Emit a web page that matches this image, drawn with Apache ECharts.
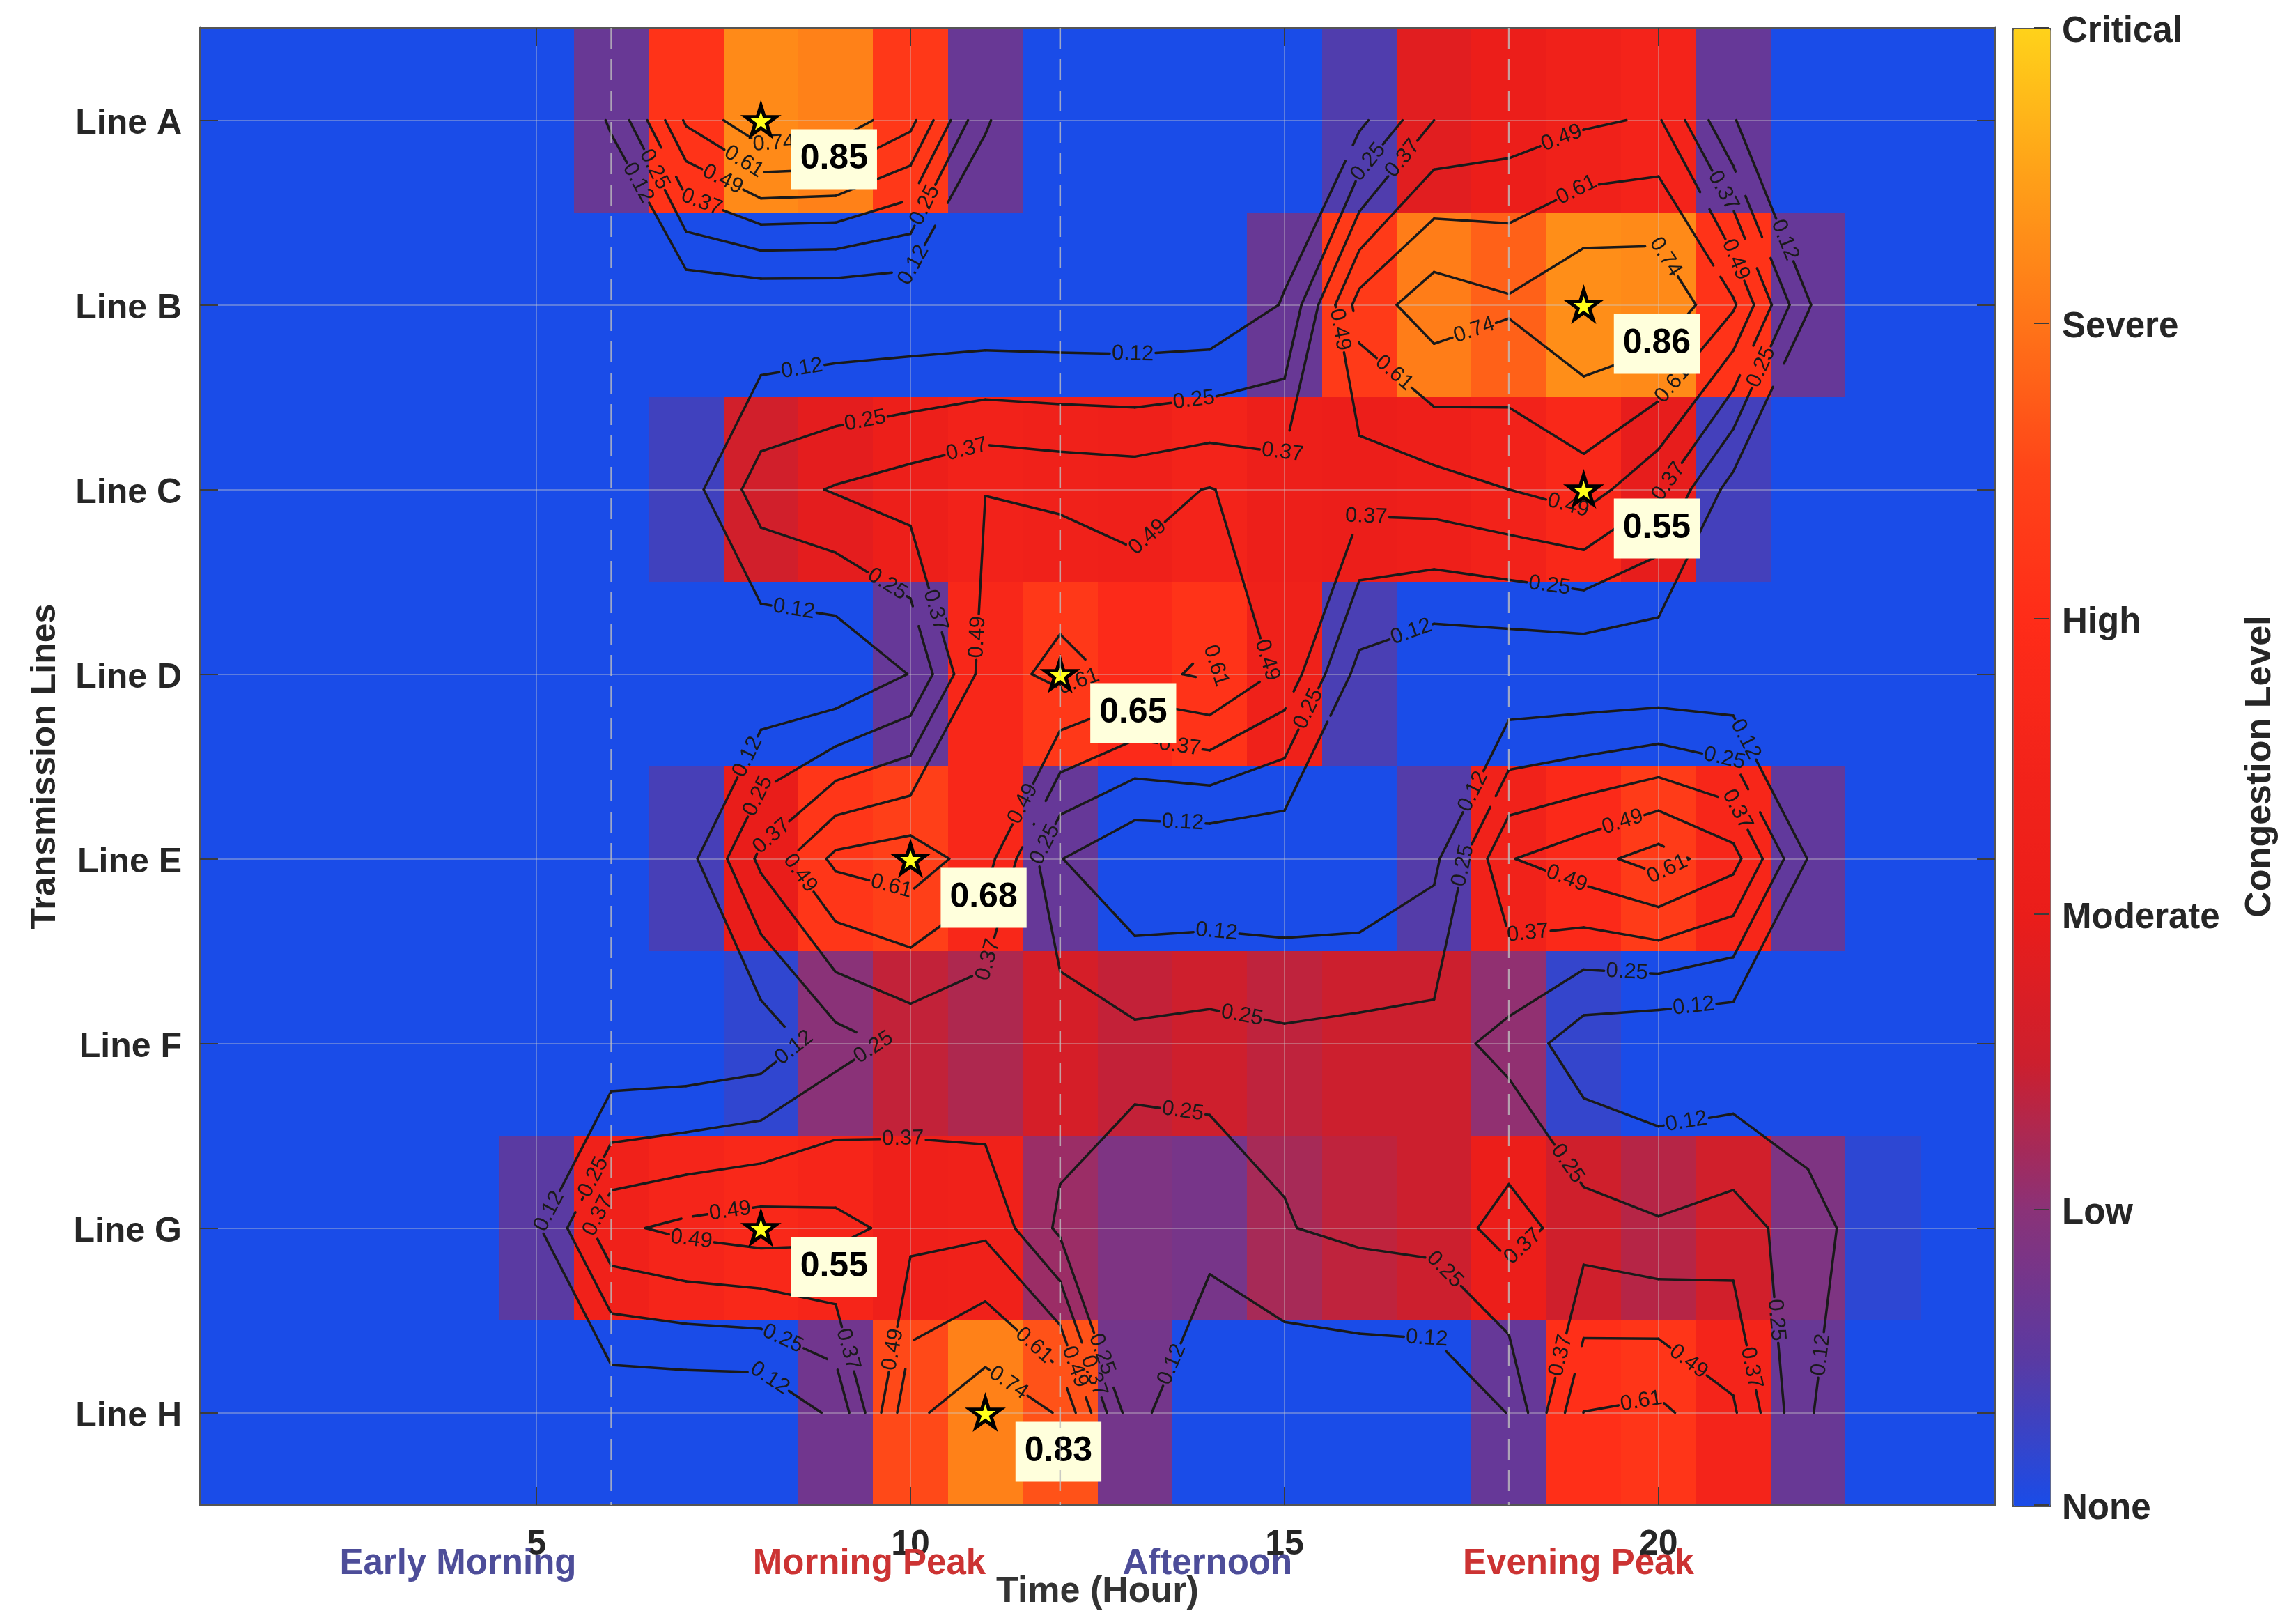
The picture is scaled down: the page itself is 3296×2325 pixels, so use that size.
<!DOCTYPE html>
<html>
<head>
<meta charset="utf-8">
<title>Transmission line congestion</title>
<script src="https://cdn.jsdelivr.net/npm/echarts@6/dist/echarts.min.js"></script>
<style>
  html, body { margin: 0; background: #fff; }
  #chart { width: 3296px; height: 2325px; }
</style>
</head>
<body>
<div id="chart"></div>
<script>
const lineNames = ['Line A', 'Line B', 'Line C', 'Line D', 'Line E', 'Line F', 'Line G', 'Line H']
const lineTicks = [1, 2, 3, 4, 5, 6, 7, 8]
const hourTicks = [5, 10, 15, 20]

// congestion per hour 1..24
const lineA = [0, 0, 0, 0, 0, 0.13, 0.63, 0.85, 0.83, 0.65, 0.13, 0, 0, 0, 0, 0.085, 0.37, 0.42, 0.47, 0.505, 0.125, 0, 0, 0]
const lineB = [0, 0, 0, 0, 0, 0, 0, 0, 0, 0, 0, 0, 0, 0, 0.13, 0.66, 0.82, 0.76, 0.86, 0.85, 0.63, 0.125, 0, 0]
const lineC = [0, 0, 0, 0, 0, 0, 0.06, 0.315, 0.38, 0.43, 0.488, 0.465, 0.45, 0.495, 0.43, 0.42, 0.44, 0.49, 0.55, 0.39, 0.065, 0, 0, 0]
const lineD = [0, 0, 0, 0, 0, 0, 0, 0, 0, 0.125, 0.545, 0.65, 0.575, 0.63, 0.46, 0.075, 0, 0, 0, 0, 0, 0, 0, 0]
const lineE = [0, 0, 0, 0, 0, 0, 0.07, 0.398, 0.64, 0.68, 0.545, 0.125, 0, 0, 0, 0, 0.09, 0.483, 0.565, 0.663, 0.535, 0.115, 0, 0]
const lineF = [0, 0, 0, 0, 0, 0, 0, 0.035, 0.2, 0.285, 0.255, 0.33, 0.287, 0.307, 0.28, 0.3, 0.3, 0.21, 0.04, 0, 0, 0, 0, 0]
const lineG = [0, 0, 0, 0, 0.1, 0.465, 0.52, 0.55, 0.526, 0.45, 0.465, 0.225, 0.175, 0.16, 0.244, 0.28, 0.3, 0.42, 0.31, 0.267, 0.315, 0.176, 0.03, 0]
const lineH = [0, 0, 0, 0, 0, 0, 0, 0, 0.148, 0.71, 0.83, 0.73, 0.155, 0, 0, 0, 0, 0.125, 0.612, 0.639, 0.508, 0.13, 0, 0]
const rows = [lineA, lineB, lineC, lineD, lineE, lineF, lineG, lineH]

const contourLevels = [0.12, 0.25, 0.37, 0.49, 0.61, 0.74]

// where the contour text sits: level, hour, line number (1 = Line A)
const contourLabels = [
  [0.74, 8.17, 1.11], [0.61, 7.78, 1.22], [0.49, 7.49, 1.32], [0.37, 7.22, 1.43], [0.25, 6.56, 1.27], [0.12, 6.35, 1.34],
  [0.25, 10.19, 1.46], [0.12, 10.02, 1.78], [0.12, 8.55, 2.35], [0.25, 9.39, 2.62], [0.37, 10.75, 2.78], [0.25, 9.71, 3.5],
  [0.12, 8.44, 3.65], [0.37, 10.29, 3.66], [0.49, 10.91, 3.8], [0.12, 7.83, 4.45], [0.25, 8.01, 4.67], [0.37, 8.15, 4.88],
  [0.49, 8.55, 5.07], [0.61, 9.75, 5.14], [0.49, 11.54, 4.71], [0.37, 10.98, 5.54], [0.25, 11.74, 4.91], [0.25, 9.52, 6.03],
  [0.12, 8.4, 6.0], [0.61, 12.26, 4.05], [0.37, 13.6, 4.39], [0.12, 13.64, 4.8], [0.25, 15.38, 4.2], [0.49, 14.8, 3.92],
  [0.61, 14.04, 3.96], [0.12, 16.71, 3.79], [0.12, 14.09, 5.4], [0.25, 14.43, 5.85], [0.25, 18.54, 3.53], [0.12, 17.54, 4.64],
  [0.25, 17.42, 5.04], [0.37, 18.25, 5.39], [0.49, 19.52, 4.8], [0.49, 18.77, 5.11], [0.61, 20.1, 5.04], [0.37, 21.02, 4.74],
  [0.25, 20.87, 4.48], [0.12, 21.13, 4.36], [0.25, 19.58, 5.61], [0.12, 20.47, 5.8], [0.12, 20.37, 6.42], [0.25, 16.13, 1.23],
  [0.37, 16.59, 1.21], [0.49, 18.71, 1.1], [0.61, 18.92, 1.39], [0.37, 20.83, 1.39], [0.12, 21.62, 1.66], [0.49, 21, 1.76],
  [0.74, 20.02, 1.76], [0.74, 17.53, 2.13], [0.49, 15.67, 2.14], [0.61, 16.38, 2.41], [0.61, 20.16, 2.42], [0.25, 21.39, 2.34],
  [0.12, 12.97, 2.27], [0.25, 13.79, 2.52], [0.37, 14.97, 2.81], [0.49, 13.22, 3.28], [0.37, 16.09, 3.18], [0.37, 20.04, 2.93],
  [0.49, 18.79, 3.09], [0.12, 5.22, 6.92], [0.25, 5.79, 6.73], [0.37, 5.85, 6.94], [0.49, 7.59, 6.91], [0.49, 7.07, 7.06],
  [0.37, 9.9, 6.55], [0.25, 8.28, 7.61], [0.37, 9.13, 7.66], [0.12, 8.09, 7.83], [0.49, 9.79, 7.66], [0.61, 11.62, 7.65],
  [0.74, 11.29, 7.85], [0.49, 12.14, 7.76], [0.37, 12.39, 7.81], [0.25, 12.51, 7.69], [0.12, 13.5, 7.74], [0.25, 13.64, 6.37],
  [0.25, 18.75, 6.66], [0.25, 17.13, 7.23], [0.37, 18.21, 7.11], [0.12, 16.9, 7.61], [0.37, 18.69, 7.69], [0.61, 19.77, 7.94],
  [0.49, 20.37, 7.74], [0.37, 21.2, 7.76], [0.25, 21.52, 7.5], [0.12, 22.03, 7.68]
]

const peakHours = [8, 19, 19, 12, 10, 8, 11]
const peakRows = [1, 2, 3, 4, 5, 7, 8]
const peakValues = [0.85, 0.86, 0.55, 0.65, 0.68, 0.55, 0.83]

const periodNames = ['Early Morning', 'Morning Peak', 'Afternoon', 'Evening Peak']
const periodCentres = [3.95, 9.45, 13.97, 18.93]
const periodColors = ['#4d4d99', '#cc3333', '#4d4d99', '#cc3333']
const periodEdges = [6, 12, 18]

const levelNames = ['None', 'Low', 'Moderate', 'High', 'Severe', 'Critical']
const palette = ['#1a4ce8', '#5a3aa2', '#8a3278', '#cc1f2e', '#ea1d1a', '#f3231a', '#ff2c18', '#ff4418', '#ff7418', '#ffa018', '#ffd21a']

const FONT = '"Liberation Sans", Arial, sans-serif'
const TEXT = '#262626'
const STAR = 'path://M50 0 L61 35 L98 35 L68 57 L79 91 L50 70 L21 91 L32 57 L2 35 L39 35 Z'

const cells = []
rows.forEach((row, r) => row.forEach((v, h) => cells.push([h + 1, r + 1, v])))

// marching squares over the hour/line grid
function contourSegments() {
  const out = []
  contourLevels.forEach(level => {
    for (let r = 0; r < rows.length - 1; r++) {
      for (let h = 0; h < 23; h++) {
        const a = rows[r][h], b = rows[r][h + 1], c = rows[r + 1][h + 1], d = rows[r + 1][h]
        const x = h + 1, y = r + 1
        const top = (a >= level) !== (b >= level) ? [x + (level - a) / (b - a), y] : null
        const right = (b >= level) !== (c >= level) ? [x + 1, y + (level - b) / (c - b)] : null
        const bottom = (d >= level) !== (c >= level) ? [x + (level - d) / (c - d), y + 1] : null
        const left = (a >= level) !== (d >= level) ? [x, y + (level - a) / (d - a)] : null
        const hits = [top, right, bottom, left].filter(Boolean)
        if (hits.length === 2) {
          out.push([hits[0][0], hits[0][1], hits[1][0], hits[1][1], level])
        } else if (hits.length === 4) {
          const centreHigh = (a + b + c + d) / 4 >= level
          const cornerHigh = a >= level
          if (centreHigh === cornerHigh) {
            out.push([top[0], top[1], right[0], right[1], level], [bottom[0], bottom[1], left[0], left[1], level])
          } else {
            out.push([top[0], top[1], left[0], left[1], level], [right[0], right[1], bottom[0], bottom[1], level])
          }
        }
      }
    }
  })
  return out
}
const segments = contourSegments()

// snap each text to its contour, once we can reach the pixel scale
let snapped = null
function snapLabels(api) {
  if (snapped) return snapped
  const pix = segments.map(s => ({ p: api.coord([s[0], s[1]]), q: api.coord([s[2], s[3]]), level: s[4] }))
  snapped = contourLabels.map(([level, h, row]) => {
    const a = api.coord([h, row])
    let best = null
    pix.forEach(s => {
      if (s.level !== level) return
      const dx = s.q[0] - s.p[0], dy = s.q[1] - s.p[1]
      const len2 = dx * dx + dy * dy || 1
      const t = Math.max(0, Math.min(1, ((a[0] - s.p[0]) * dx + (a[1] - s.p[1]) * dy) / len2))
      const x = s.p[0] + t * dx, y = s.p[1] + t * dy
      const dist = Math.hypot(a[0] - x, a[1] - y)
      if (!best || dist < best.dist) best = { x, y, dist, angle: Math.atan2(dy, dx) }
    })
    let angle = best.angle
    if (angle > Math.PI / 2) angle -= Math.PI
    if (angle < -Math.PI / 2) angle += Math.PI
    return { x: best.x, y: best.y, rotation: -angle, text: level.toFixed(2) }
  })
  return snapped
}

// pieces of a segment left after cutting the gaps round the contour text
function cutGaps(p, q, anchors, radius) {
  let pieces = [[0, 1]]
  const dx = q[0] - p[0], dy = q[1] - p[1]
  const A = dx * dx + dy * dy
  if (!A) return []
  anchors.forEach(an => {
    const fx = p[0] - an.x, fy = p[1] - an.y
    const B = 2 * (fx * dx + fy * dy)
    const C = fx * fx + fy * fy - radius * radius
    const disc = B * B - 4 * A * C
    if (disc <= 0) return
    const t0 = (-B - Math.sqrt(disc)) / (2 * A), t1 = (-B + Math.sqrt(disc)) / (2 * A)
    const next = []
    pieces.forEach(([s, e]) => {
      if (t1 <= s || t0 >= e) { next.push([s, e]); return }
      if (t0 > s) next.push([s, t0])
      if (t1 < e) next.push([t1, e])
    })
    pieces = next
  })
  return pieces.map(([s, e]) => [p[0] + s * dx, p[1] + s * dy, p[0] + e * dx, p[1] + e * dy])
}

const chart = echarts.init(document.getElementById('chart'), null, { renderer: 'canvas' })

const axisFrame = { show: true, onZero: false, lineStyle: { color: '#555', width: 3 } }
const inTicks = { show: true, inside: true, length: 26, lineStyle: { color: '#3c3c3c', width: 2 } }
const grids = { show: true, lineStyle: { color: 'rgba(205,205,205,0.38)', width: 2 } }

chart.setOption({
  backgroundColor: '#fff',
  animation: false,
  textStyle: { fontFamily: FONT },
  grid: [
    { left: 287, top: 40, width: 2577, height: 2120 },
    { left: 2889, top: 40, width: 53, height: 2120 }
  ],
  visualMap: {
    type: 'continuous',
    seriesIndex: 0,
    dimension: 2,
    min: 0,
    max: 1,
    calculable: false,
    left: 2889,
    top: 40,
    itemWidth: 53,
    itemHeight: 2120,
    padding: 0,
    text: null,
    showLabel: false,
    borderColor: '#555',
    borderWidth: 3,
    inRange: { color: palette }
  },
  xAxis: [
    {
      type: 'value', gridIndex: 0, min: 0.5, max: 24.5, z: 2,
      name: 'Time (Hour)', nameLocation: 'middle', nameGap: 99,
      nameTextStyle: { fontFamily: FONT, fontSize: 52, fontWeight: 'bold', color: '#333' },
      axisLine: axisFrame,
      axisTick: { ...inTicks, customValues: hourTicks },
      splitLine: grids,
      axisLabel: { margin: 32, fontSize: 50, fontWeight: 'bold', color: TEXT, fontFamily: FONT, customValues: hourTicks, formatter: v => String(v) }
    },
    {
      type: 'value', gridIndex: 0, position: 'top', min: 0.5, max: 24.5, z: 2,
      axisLine: axisFrame,
      axisTick: { ...inTicks, customValues: hourTicks },
      splitLine: { show: false },
      axisLabel: { show: false }
    },
    { type: 'value', gridIndex: 1, show: false, min: 0, max: 1 }
  ],
  yAxis: [
    {
      type: 'value', gridIndex: 0, inverse: true, min: 0.5, max: 8.5, z: 2,
      name: 'Transmission Lines', nameLocation: 'middle', nameGap: 197,
      nameTextStyle: { fontFamily: FONT, fontSize: 50, fontWeight: 'bold', color: TEXT },
      axisLine: axisFrame,
      axisTick: { ...inTicks, customValues: lineTicks },
      splitLine: grids,
      axisLabel: {
        margin: 26, fontSize: 50, fontWeight: 'bold', color: TEXT, fontFamily: FONT,
        verticalAlign: 'top', lineHeight: 12,
        customValues: lineTicks, formatter: v => lineNames[v - 1]
      }
    },
    {
      type: 'value', gridIndex: 0, position: 'right', inverse: true, min: 0.5, max: 8.5, z: 2,
      axisLine: axisFrame,
      axisTick: { ...inTicks, customValues: lineTicks },
      splitLine: { show: false },
      axisLabel: { show: false }
    },
    {
      type: 'value', gridIndex: 1, position: 'right', min: 0, max: 1, interval: 0.2, z: 6,
      name: 'Congestion Level', nameLocation: 'middle', nameGap: 277, nameRotate: 90,
      nameTextStyle: { fontFamily: FONT, fontSize: 52, fontWeight: 'bold', color: TEXT },
      axisLine: { show: false, onZero: false },
      axisTick: { show: true, inside: true, length: 22, lineStyle: { color: '#3c3c3c', width: 2 } },
      splitLine: { show: false },
      axisLabel: {
        margin: 18, fontSize: 51, fontWeight: 'bold', color: TEXT, fontFamily: FONT,
        verticalAlign: 'top', lineHeight: 12,
        formatter: v => levelNames[Math.round(v * 5)]
      }
    }
  ],
  series: [
    {
      name: 'Congestion',
      type: 'custom',
      z: 1,
      silent: true,
      data: cells,
      encode: { x: 0, y: 1 },
      renderItem: (params, api) => {
        const a = api.coord([api.value(0) - 0.5, api.value(1) - 0.5])
        const b = api.coord([api.value(0) + 0.5, api.value(1) + 0.5])
        const x = Math.round(a[0]), y = Math.round(a[1])
        return {
          type: 'rect',
          shape: { x, y, width: Math.round(b[0]) - x, height: Math.round(b[1]) - y },
          style: { fill: api.visual('color') }
        }
      }
    },
    {
      name: 'Contours',
      type: 'custom',
      z: 3,
      silent: true,
      data: segments,
      encode: { x: [0, 2], y: [1, 3] },
      renderItem: (params, api) => {
        const anchors = snapLabels(api)
        const p = api.coord([api.value(0), api.value(1)])
        const q = api.coord([api.value(2), api.value(3)])
        return {
          type: 'group',
          children: cutGaps(p, q, anchors, 33).map(c => ({
            type: 'line',
            shape: { x1: c[0], y1: c[1], x2: c[2], y2: c[3] },
            style: { stroke: '#1a1a1a', lineWidth: 3.5, lineCap: 'round' }
          }))
        }
      }
    },
    {
      name: 'Contour text',
      type: 'custom',
      z: 3,
      silent: true,
      data: contourLabels.map((l, i) => [l[1], l[2], i]),
      encode: { x: 0, y: 1 },
      renderItem: (params, api) => {
        const a = snapLabels(api)[api.value(2)]
        return {
          type: 'text',
          x: a.x,
          y: a.y,
          rotation: a.rotation,
          style: { text: a.text, fill: '#1a1a1a', font: '31px ' + FONT, align: 'center', verticalAlign: 'middle' }
        }
      }
    },
    {
      name: 'Peaks',
      type: 'scatter',
      z: 4,
      silent: true,
      symbol: STAR,
      symbolSize: [44, 42],
      itemStyle: { color: '#ffff1a', borderColor: '#000', borderWidth: 5, opacity: 1 },
      data: peakHours.map((h, i) => [h, peakRows[i], peakValues[i]]),
      label: {
        show: true,
        position: 'inside',
        offset: [105, 56],
        formatter: p => p.value[2].toFixed(2),
        fontFamily: FONT,
        fontSize: 50,
        fontWeight: 'bold',
        color: '#000',
        backgroundColor: '#ffffdc',
        padding: [18, 13]
      }
    },
    {
      name: 'Period edges',
      type: 'custom',
      z: 7,
      silent: true,
      data: periodEdges.map(h => [h]),
      encode: { x: 0 },
      renderItem: (params, api) => {
        const a = api.coord([api.value(0), 0.5])
        const b = api.coord([api.value(0), 8.5])
        return {
          type: 'line',
          shape: { x1: a[0], y1: a[1], x2: b[0], y2: b[1] },
          style: { stroke: 'rgba(190,190,190,0.8)', lineWidth: 2.5, lineDash: [30, 15] }
        }
      }
    },
    {
      name: 'Periods',
      type: 'custom',
      z: 7,
      silent: true,
      data: periodCentres.map((h, i) => [h, i]),
      encode: { x: 0 },
      renderItem: (params, api) => {
        const i = api.value(1)
        const a = api.coord([api.value(0), 8.5])
        return {
          type: 'text',
          x: a[0],
          y: a[1] + 85,
          style: { text: periodNames[i], fill: periodColors[i], font: 'bold 51px ' + FONT, align: 'center', verticalAlign: 'middle' }
        }
      }
    }
  ]
})
</script>
</body>
</html>
